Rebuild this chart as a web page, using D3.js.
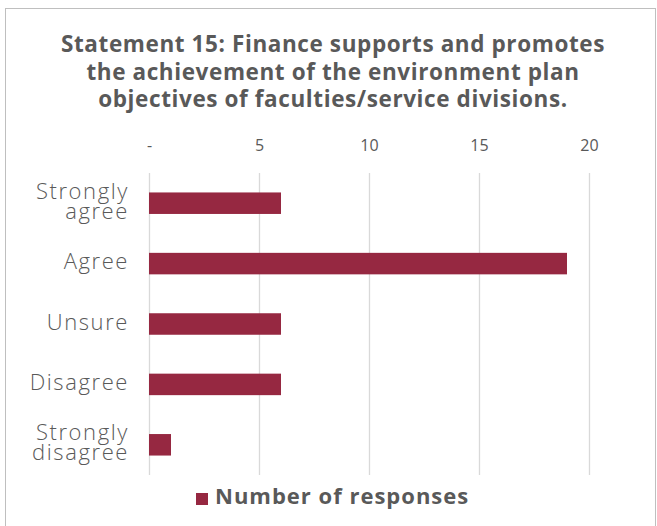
<!DOCTYPE html>
<html>
<head>
<meta charset="utf-8">
<script src="https://cdn.jsdelivr.net/npm/d3@7"></script>
<style>
  html, body { margin: 0; padding: 0; background: #fff; }
  svg { display: block; }
</style>
</head>
<body>
<svg id="chart" width="657" height="526"></svg>
<script>
// Survey responses for Statement 15
const categories = [["Strongly", "agree"], ["Agree"], ["Unsure"], ["Disagree"], ["Strongly", "disagree"]];
const responses = [6, 19, 6, 6, 1];
const tickValues = [0, 5, 10, 15, 20];
const tickLabels = ["-", "5", "10", "15", "20"];
const titleLines = [
  "Statement 15: Finance supports and promotes",
  "the achievement of the environment plan",
  "objectives of faculties/service divisions."
];
const seriesName = "Number of responses";

const barColor = "#962841";
const textColor = "#595959";
const gridColor = "#d9d9d9";

const svg = d3.select("#chart");

// outer frame
svg.append("rect")
  .attr("x", 5.5).attr("y", 8.5)
  .attr("width", 650).attr("height", 530)
  .attr("fill", "none").attr("stroke", "#bfbfbf").attr("stroke-width", 1);

// title
svg.append("text")
  .attr("text-anchor", "middle")
  .attr("font-family", "'Open Sans', sans-serif")
  .attr("font-weight", 700)
  .attr("font-size", 22.5)
  .attr("letter-spacing", 0.6)
  .attr("fill", textColor)
  .selectAll("tspan").data(titleLines).join("tspan")
  .attr("x", 333)
  .attr("y", (d, i) => 52 + i * 27.5)
  .text(d => d);

const keys = categories.map(c => c.join(" "));
const x = d3.scaleLinear().domain([0, 20]).range([149, 589]);
const y = d3.scaleBand().domain(keys).range([173, 475]).paddingInner(0.644).paddingOuter(0.322);

// vertical gridlines
svg.append("g").selectAll("line").data(tickValues).join("line")
  .attr("x1", d => x(d) + 0.5).attr("x2", d => x(d) + 0.5)
  .attr("y1", 173).attr("y2", 475)
  .attr("stroke", gridColor).attr("stroke-width", 1.3);

// top axis labels
const axis = d3.axisTop(x).tickValues(tickValues).tickSize(0).tickPadding(0)
  .tickFormat((d, i) => tickLabels[i]);
const axisG = svg.append("g").attr("transform", "translate(0,146)").call(axis);
axisG.select(".domain").remove();
axisG.selectAll("text")
  .attr("font-family", "'Open Sans', sans-serif")
  .attr("font-size", 16)
  .attr("fill", textColor)
  .attr("dy", "0.32em");

// bars
svg.append("g").selectAll("rect").data(responses).join("rect")
  .attr("x", x(0))
  .attr("y", (d, i) => y(keys[i]))
  .attr("width", d => x(d) - x(0))
  .attr("height", y.bandwidth())
  .attr("fill", barColor);

// category labels (baselines placed around each band's centre)
const catG = svg.append("g")
  .attr("font-family", "'Open Sans', sans-serif")
  .attr("font-weight", 300)
  .attr("font-size", 22)
  .attr("letter-spacing", 1.6)
  .attr("fill", textColor)
  .attr("text-anchor", "end");
categories.forEach((lines, i) => {
  const cy = y(keys[i]) + y.bandwidth() / 2;
  const t = catG.append("text");
  lines.forEach((ln, j) => {
    t.append("tspan")
      .attr("x", 129)
      .attr("y", cy + 5.5 + (j - (lines.length - 1) / 2) * 20)
      .text(ln);
  });
});

// legend
const legend = svg.append("g");
legend.append("rect")
  .attr("x", 196).attr("y", 493).attr("width", 12).attr("height", 12)
  .attr("fill", barColor);
legend.append("text")
  .attr("x", 215).attr("y", 504)
  .attr("font-family", "'Open Sans', sans-serif")
  .attr("font-weight", 700)
  .attr("font-size", 22)
  .attr("letter-spacing", 1)
  .attr("fill", textColor)
  .text(seriesName);
</script>
</body>
</html>
